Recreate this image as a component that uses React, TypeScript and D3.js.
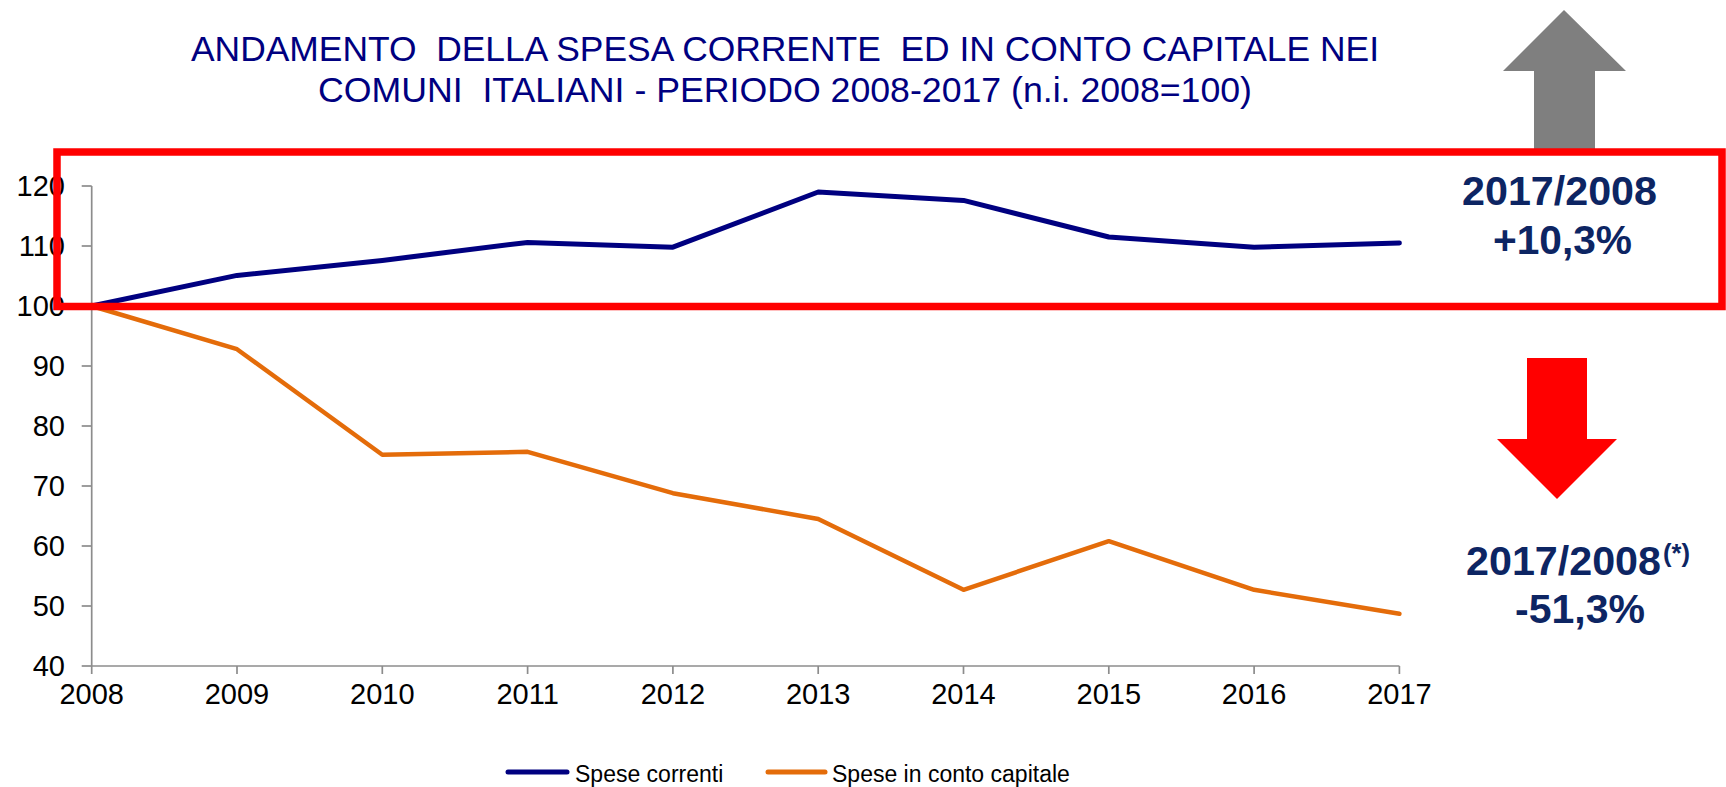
import React from "react";
import * as d3 from "d3";

const years = [2008, 2009, 2010, 2011, 2012, 2013, 2014, 2015, 2016, 2017];
const speseCorrenti = [100, 105.1, 107.6, 110.6, 109.8, 119.0, 117.6, 111.5, 109.8, 110.5];
const speseCapitale = [100, 92.8, 75.2, 75.7, 68.8, 64.5, 52.7, 60.8, 52.7, 48.7];
const yTicks = [40, 50, 60, 70, 80, 90, 100, 110, 120];
const titleLines = [
  "ANDAMENTO  DELLA SPESA CORRENTE  ED IN CONTO CAPITALE NEI",
  "COMUNI  ITALIANI - PERIODO 2008-2017 (n.i. 2008=100)",
];
const legendLabels = ["Spese correnti", "Spese in conto capitale"];
const upperNote = ["2017/2008", "+10,3%"];
const lowerNote = ["2017/2008", "(*)", "-51,3%"];

const W = 1726;
const H = 787;
const NAVY = "#000080";
const ORANGE = "#E46C0A";
const NOTE = "#0d2563";
const AXIS = "#8c8c8c";
const FONT = "Liberation Sans, Arial, Helvetica, sans-serif";

export default function App() {
  const x = d3.scaleLinear().domain([2008, 2017]).range([91.7, 1399.4]);
  const y = d3.scaleLinear().domain([40, 120]).range([666, 186]);
  const line = d3
    .line<number>()
    .x((_, i) => x(years[i]))
    .y((d) => y(d));

  const titleLen = [1188, 934];

  return (
    <svg
      width={W}
      height={H}
      style={{ position: "absolute", left: 0, top: 0, background: "#fff" }}
      fontFamily={FONT}
    >
      <rect x={0} y={0} width={W} height={H} fill="#fff" />
      {/* Title */}
      {titleLines.map((t, i) => (
        <text
          key={i}
          x={785}
          y={61 + i * 41}
          textAnchor="middle"
          fontSize={35}
          fill={NAVY}
          textLength={titleLen[i]}
          lengthAdjust="spacingAndGlyphs"
          style={{ whiteSpace: "pre" }}
        >
          {t}
        </text>
      ))}

      {/* Axes */}
      <line x1={x(2008)} x2={x(2008)} y1={y(120)} y2={y(40)} stroke={AXIS} strokeWidth={1.7} />
      <line x1={x(2008)} x2={x(2017)} y1={y(40)} y2={y(40)} stroke={AXIS} strokeWidth={1.7} />
      {yTicks.map((t) => (
        <g key={t}>
          <line x1={x(2008) - 10} x2={x(2008)} y1={y(t)} y2={y(t)} stroke={AXIS} strokeWidth={1.7} />
          <text x={65} y={y(t)} dy="0.36em" textAnchor="end" fontSize={29} fill="#000">
            {t}
          </text>
        </g>
      ))}
      {years.map((yr) => (
        <g key={yr}>
          <line x1={x(yr)} x2={x(yr)} y1={y(40)} y2={y(40) + 8} stroke={AXIS} strokeWidth={1.7} />
          <text x={x(yr)} y={704} textAnchor="middle" fontSize={29} fill="#000">
            {yr}
          </text>
        </g>
      ))}

      {/* Series */}
      <path d={line(speseCapitale) || ""} fill="none" stroke={ORANGE} strokeWidth={4.5} strokeLinecap="round" strokeLinejoin="round" />
      <path d={line(speseCorrenti) || ""} fill="none" stroke={NAVY} strokeWidth={5} strokeLinecap="round" strokeLinejoin="round" />

      {/* Legend */}
      <line x1={508} x2={567} y1={772} y2={772} stroke={NAVY} strokeWidth={5} strokeLinecap="round" />
      <text x={575} y={782} fontSize={23} fill="#000">{legendLabels[0]}</text>
      <line x1={768} x2={825} y1={772} y2={772} stroke={ORANGE} strokeWidth={5} strokeLinecap="round" />
      <text x={832} y={782} fontSize={23} fill="#000">{legendLabels[1]}</text>

      {/* Grey up arrow */}
      <polygon
        points="1564,10 1626,71 1595,71 1595,152 1534,152 1534,71 1503,71"
        fill="#7f7f7f"
      />
      {/* Red down arrow */}
      <polygon
        points="1527,358 1587,358 1587,439 1617,439 1557,499 1497,439 1527,439"
        fill="#ff0000"
      />

      {/* Red highlight box */}
      <rect x={57} y={152} width={1665} height={154.5} fill="none" stroke="#ff0000" strokeWidth={7.5} />

      {/* Notes */}
      <text x={1462} y={205} fontSize={40} fontWeight="bold" fill={NOTE} textLength={195} lengthAdjust="spacingAndGlyphs">
        {upperNote[0]}
      </text>
      <text x={1493} y={254} fontSize={40} fontWeight="bold" fill={NOTE} textLength={139} lengthAdjust="spacingAndGlyphs">
        {upperNote[1]}
      </text>
      <text x={1466} y={575} fontSize={40} fontWeight="bold" fill={NOTE} textLength={195} lengthAdjust="spacingAndGlyphs">
        {lowerNote[0]}
      </text>
      <text x={1663} y={562} fontSize={25} fontWeight="bold" fill={NOTE} textLength={27} lengthAdjust="spacingAndGlyphs">
        {lowerNote[1]}
      </text>
      <text x={1515} y={623} fontSize={40} fontWeight="bold" fill={NOTE} textLength={130} lengthAdjust="spacingAndGlyphs">
        {lowerNote[2]}
      </text>
    </svg>
  );
}
